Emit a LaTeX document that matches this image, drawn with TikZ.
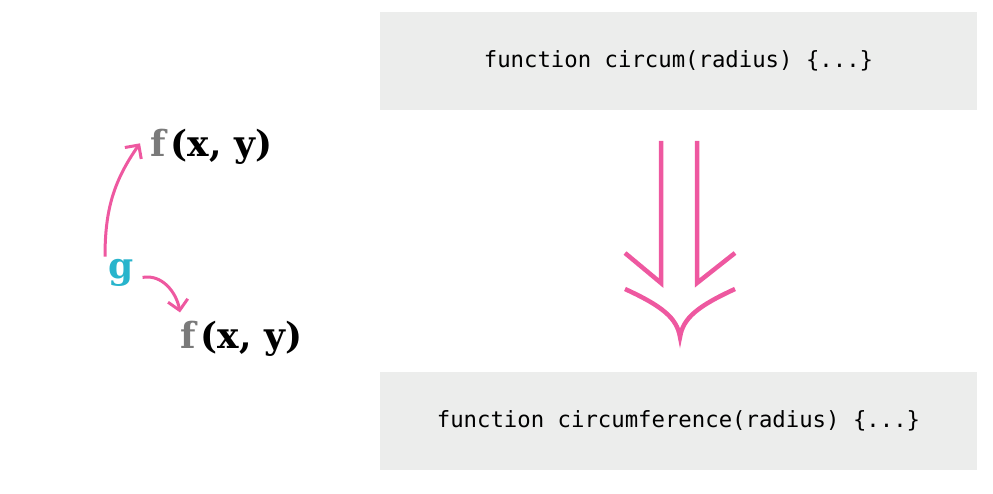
\documentclass[tikz,border=0pt]{standalone}
\usepackage{fontspec}
\setmonofont{DejaVu Sans Mono}
\newfontfamily\slabfont{DejaVu Serif}
\usetikzlibrary{arrows.meta,positioning}
\definecolor{boxgray}{RGB}{236,237,236}
\definecolor{hotpink}{RGB}{238,88,160}
\definecolor{fgray}{RGB}{122,122,122}
\definecolor{gteal}{RGB}{40,180,204}

\begin{document}
\begin{tikzpicture}[x=1pt, y=-1pt]
\tikzset{
  codebox/.style={rectangle, fill=boxgray, minimum width=597pt, minimum height=98pt, inner sep=0pt,
    font=\fontsize{22.3}{26}\selectfont\ttfamily},
  fxy/.style={inner sep=0pt, anchor=base west, font=\fontsize{36}{42}\selectfont\slabfont\bfseries},
  arr/.style={-{Straight Barb[length=10pt, width=20pt]}, draw=hotpink, line width=3pt},
  dbl/.style={draw=hotpink, line width=4.5pt},
}
\useasboundingbox (0,0) rectangle (993,494);
% code boxes
\node[codebox] (short) at (678.5,61) {function circum(radius) \{...\}};
\node[codebox] (long) at (678.5,421) {function circumference(radius) \{...\}};
% composition
\node[fxy] (fa) at (150,157) {\textcolor{fgray}{f}\kern5pt(x, y)};
\node[fxy, text=gteal] (g) at (108,279) {g};
\node[fxy] (fb) at (180,348) {\textcolor{fgray}{f}\kern5pt(x, y)};
\draw[arr] ([xshift=-3pt, yshift=3pt]g.north west) to[out=90, in=235] ([xshift=-10pt, yshift=4pt]fa.west);
\draw[arr] ([xshift=9pt, yshift=-4pt]g.east) to[out=10, in=100] ([xshift=0pt, yshift=8pt]fb.north west);
% rename arrow
\coordinate (lt) at (661,141);
\coordinate (rt) at (697,141);
\draw[dbl] (lt) -- (661,283) -- (625,253);
\draw[dbl] (rt) -- (697,283) -- (735,253);
\draw[dbl] (625,289) .. controls (662,306) and (677,318) .. (680,337)
  .. controls (683,318) and (698,306) .. (735,289);
\end{tikzpicture}
\end{document}
